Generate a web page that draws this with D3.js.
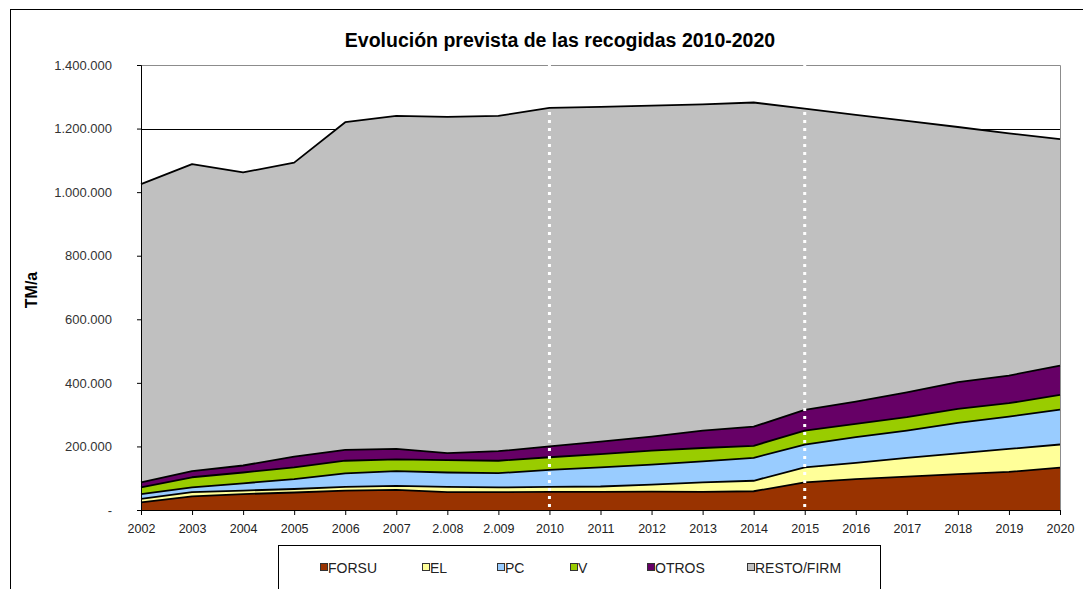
<!DOCTYPE html>
<html>
<head>
<meta charset="utf-8">
<script src="https://cdn.jsdelivr.net/npm/d3@7"></script>
<style>
  body { margin: 0; background: #fff; }
  svg { display: block; font-family: "Liberation Sans", Arial, sans-serif; }
</style>
</head>
<body>
<div id="chart"></div>
<script>
// categories and tick labels
var years = ["2002","2003","2004","2005","2006","2007","2008","2009","2010","2011",
             "2012","2013","2014","2015","2016","2017","2018","2019","2020"];
var yearLabels = ["2002","2003","2004","2005","2006","2007","2.008","2.009","2010","2011",
                  "2012","2013","2014","2015","2016","2017","2018","2019","2020"];
var yTicks = [0, 200000, 400000, 600000, 800000, 1000000, 1200000, 1400000];
var markYears = ["2010", "2015"];

// series values, TM/a
var forsu = [24000,43000,50000,55000,61000,63000,56000,56000,57000,57000,
             58000,57000,59000,87000,97000,105000,113000,120000,133000];
var el    = [11000,13000,11000,11000,12000,13000,17000,15000,16000,17000,
             22000,30000,33000,47000,51000,59000,65000,72000,73000];
var pc    = [15000,15000,23000,31000,42000,46000,45000,45000,53000,60000,
             63000,66000,72000,72000,81000,86000,96000,102000,110000];
var v     = [21000,32000,34000,37000,40000,37000,39000,39000,40000,42000,
             44000,42000,38000,44000,42000,42000,44000,42000,46000];
var otros = [16000,19000,22000,34000,34000,33000,22000,30000,34000,39000,
             44000,55000,60000,65000,70000,78000,84000,87000,92000];
var resto = [938000,966000,922000,925000,1031000,1048000,1058000,1055000,1065000,1053000,
             1041000,1026000,1020000,948000,902000,854000,803000,762000,713000];

var seriesNames = ["FORSU", "EL", "PC", "V", "OTROS", "RESTO/FIRM"];
var seriesValues = [forsu, el, pc, v, otros, resto];
var seriesColors = ["#993300", "#ffff99", "#99ccff", "#99cc00", "#660066", "#c0c0c0"];

var width = 1083, height = 589;
var margin = {left: 141, right: 23, top: 65, bottom: 79};

// table for d3.stack
var table = years.map(function(y, i) {
    var row = {year: y};
    seriesNames.forEach(function(name, k) { row[name] = seriesValues[k][i]; });
    return row;
});

var svg = d3.select("#chart").append("svg")
    .attr("width", width)
    .attr("height", height);

// chart area border
svg.append("rect")
    .attr("x", 10.5).attr("y", 9.5)
    .attr("width", 1090).attr("height", 600)
    .attr("fill", "#fff")
    .attr("stroke", "#000");

var x = d3.scalePoint().domain(years).range([margin.left, width - margin.right]);
var y = d3.scaleLinear().domain([0, 1400000]).range([height - margin.bottom, margin.top]);

var loc = d3.formatLocale({decimal: ",", thousands: ".", grouping: [3], currency: ["", ""]});
var fmt = loc.format(",.0f");

// gridlines
svg.append("g").selectAll("line")
    .data(yTicks.filter(function(t) { return t > 0 && t < 1400000; }))
    .join("line")
    .attr("x1", x.range()[0]).attr("x2", x.range()[1])
    .attr("y1", function(d) { return Math.round(y(d)) + 0.5; })
    .attr("y2", function(d) { return Math.round(y(d)) + 0.5; })
    .attr("stroke", "#000").attr("stroke-width", 1);

// plot area border (top + right)
svg.append("path")
    .attr("d", "M" + x.range()[0] + "," + (y(1400000) + 0.5) +
               "H" + (x.range()[1] + 0.5) + "V" + y(0))
    .attr("fill", "none").attr("stroke", "#8c8c8c");

var stack = d3.stack().keys(seriesNames);
var layers = stack(table);

var area = d3.area()
    .x(function(d) { return x(d.data.year); })
    .y0(function(d) { return y(d[0]); })
    .y1(function(d) { return y(d[1]); });

var topLine = d3.line()
    .x(function(d) { return x(d.data.year); })
    .y(function(d) { return y(d[1]); });

svg.append("g").selectAll("path")
    .data(layers)
    .join("path")
    .attr("d", area)
    .attr("fill", function(d, i) { return seriesColors[i]; });

svg.append("g").selectAll("path")
    .data(layers)
    .join("path")
    .attr("d", topLine)
    .attr("fill", "none")
    .attr("stroke", "#000")
    .attr("stroke-width", 1.8)
    .attr("stroke-linejoin", "round");

// white dotted markers
svg.append("g").selectAll("line")
    .data(markYears)
    .join("line")
    .attr("x1", function(d) { return x(d); })
    .attr("x2", function(d) { return x(d); })
    .attr("y1", y(1400000) - 1)
    .attr("y2", y(0) - 2)
    .attr("stroke", "#fff")
    .attr("stroke-width", 3)
    .attr("stroke-dasharray", "3,5");

// y axis
var yAxis = d3.axisLeft(y).tickValues(yTicks).tickSize(4).tickPadding(25)
    .tickFormat(function(d) { return d === 0 ? "-" : fmt(d); });
var gy = svg.append("g").attr("transform", "translate(" + x.range()[0] + ",0)").call(yAxis);
gy.select(".domain").attr("stroke", "#000");
gy.selectAll(".tick line").attr("stroke", "#000");
gy.selectAll(".tick text")
    .attr("font-size", 13).attr("fill", "#333")
    .attr("font-family", "'Liberation Sans', Arial, sans-serif");

// x axis
var xAxis = d3.axisBottom(x).tickSize(5).tickPadding(9)
    .tickFormat(function(d, i) { return yearLabels[i]; });
var gx = svg.append("g").attr("transform", "translate(0," + y(0) + ")").call(xAxis);
gx.select(".domain").attr("stroke", "#000");
gx.selectAll(".tick line").attr("stroke", "#000");
gx.selectAll(".tick text")
    .attr("font-size", 12.5).attr("fill", "#222")
    .attr("font-family", "'Liberation Sans', Arial, sans-serif");

// title
svg.append("text")
    .attr("x", 560).attr("y", 47)
    .attr("text-anchor", "middle")
    .attr("font-size", 19.5).attr("font-weight", "bold")
    .text("Evolución prevista de las recogidas 2010-2020");

// y axis title
svg.append("text")
    .attr("transform", "translate(37,290) rotate(-90)")
    .attr("text-anchor", "middle")
    .attr("font-size", 16).attr("font-weight", "bold")
    .text("TM/a");

// legend
var legend = svg.append("g");
legend.append("rect")
    .attr("x", 278.5).attr("y", 545.5)
    .attr("width", 602).attr("height", 60)
    .attr("fill", "#fff").attr("stroke", "#000");

var legendX = [320, 422, 497, 570, 647, 747];
var items = legend.selectAll("g.item")
    .data(seriesNames)
    .join("g")
    .attr("class", "item")
    .attr("transform", function(d, i) { return "translate(" + legendX[i] + ",563)"; });
items.append("rect")
    .attr("x", 0.5).attr("y", 0.5)
    .attr("width", 7).attr("height", 7)
    .attr("fill", function(d, i) { return seriesColors[i]; })
    .attr("stroke", "#333");
items.append("text")
    .attr("x", 8).attr("y", 9.5)
    .attr("font-size", 14).attr("fill", "#222")
    .text(function(d) { return d; });
</script>
</body>
</html>
